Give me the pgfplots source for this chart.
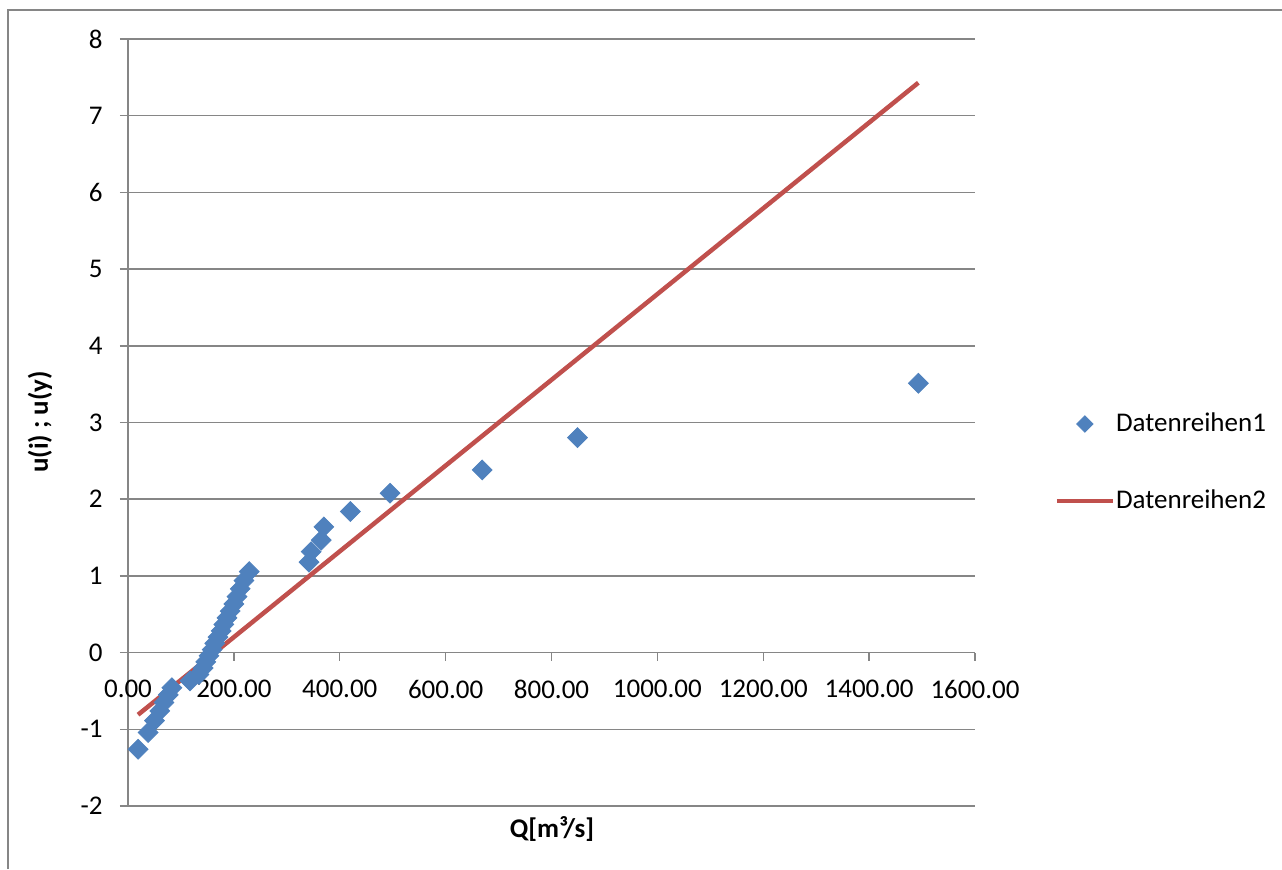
\documentclass[border=0pt]{standalone}
\usepackage{fontspec}
\setmainfont{Carlito}
\usepackage{pgfplots}
\pgfplotsset{compat=1.18}
\definecolor{blueS}{HTML}{4F81BD}
\definecolor{redS}{HTML}{C0504D}
\definecolor{gridc}{HTML}{868686}
\pgfplotsset{
  scatleg/.style={legend image code/.code={\draw[mark repeat=2,mark phase=2,##1, mark size=2.9pt] plot coordinates {(0pt,0pt)(14pt,0pt)(28pt,0pt)};}},
  lineleg/.style={legend image code/.code={\draw[##1] (0pt,0pt) -- (28pt,0pt);}},
}
\newcommand{\fs}{\fontsize{13.5}{16}\selectfont}
\begin{document}
\begin{tikzpicture}
\fs
\path[use as bounding box] (0,0) rectangle (641pt,434.5pt);
\draw[gridc, line width=0.6pt] (4pt,0) -- (4pt,429.5pt) -- (641pt,429.5pt);
\begin{axis}[
  at={(64pt,31.5pt)}, anchor=south west,
  width=423.5pt, height=383.5pt, scale only axis,
  xmin=0, xmax=1600, ymin=-2, ymax=8,
  axis y line=left, axis x line=middle,
  axis line style={-, gridc, line width=0.75pt},
  hide obscured x ticks=false,
  xtick={0,200,...,1600},
  xticklabels={0.00,200.00,400.00,600.00,800.00,1000.00,1200.00,1400.00,1600.00},
  ytick={-2,-1,...,8},
  yticklabels={-2,-1,0,1,2,3,4,5,6,7,8},
  ymajorgrids, grid style={gridc, line width=0.75pt},
  major tick style={gridc, line width=0.75pt}, major tick length=4pt, tick align=outside,
  ticklabel style={font=\fs, text=black},
  xticklabel style={yshift=-5pt},
  yticklabel style={xshift=-4pt},
  /pgf/number format/assume math mode=true,
  legend style={at={(rel axis cs:1.094,0.448)}, anchor=west, draw=none, fill=none,
    inner sep=0pt, outer sep=0pt, row sep=23pt, font=\fs,
    /tikz/every odd column/.append style={column sep=-1.5pt}},
  legend cell align=left,
  clip=false,
]
\addplot[only marks, mark=square*, mark size=3.5pt, color=blueS,
  mark options={rotate=45, draw=blueS, fill=blueS}, scatleg]
coordinates {
(19,-1.260) (38,-1.041) (50,-0.887) (60,-0.761) (68,-0.651) (76,-0.551) (83,-0.458)
(117,-0.369) (134,-0.285) (142,-0.202) (147,-0.121) (153,-0.041) (159,0.039)
(164,0.120) (170,0.201) (176,0.283) (181,0.367) (187,0.453) (193,0.541) (200,0.634)
(206,0.730) (212,0.832) (219,0.939) (229,1.055) (342,1.179) (346,1.316) (365,1.467)
(370,1.639) (420,1.839) (495,2.078) (669,2.382) (849,2.803) (1493,3.511)
};
\addlegendentry{Datenreihen1}
\addplot[color=redS, line width=2.25pt, no marks, lineleg]
coordinates {(19,-0.81) (1493,7.43)};
\addlegendentry{Datenreihen2}
\end{axis}
\node[font=\fs\bfseries] at (276pt,20pt) {Q[m³/s]};
\node[font=\fs\bfseries, rotate=90] at (20pt,223.5pt) {u(i) ; u(y)};
\end{tikzpicture}
\end{document}
